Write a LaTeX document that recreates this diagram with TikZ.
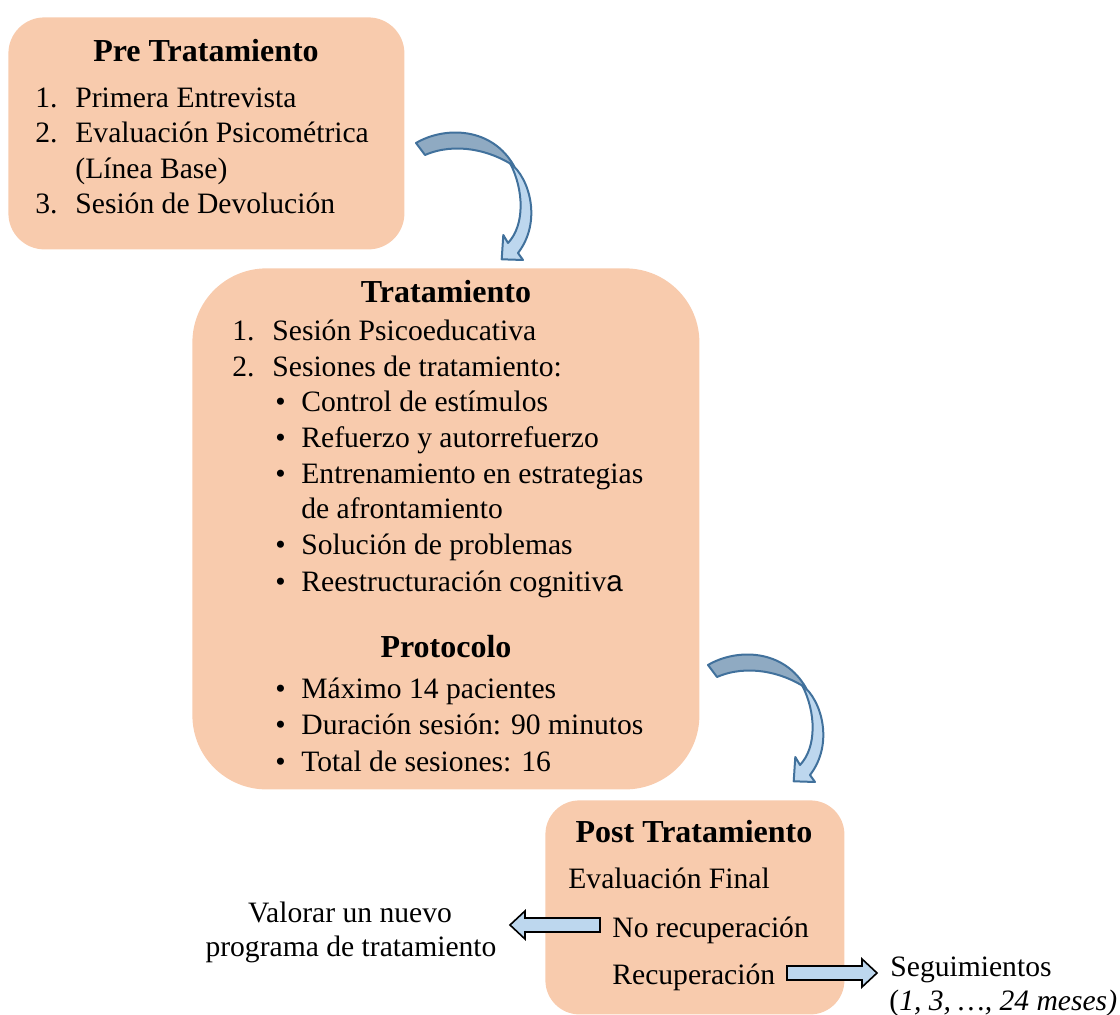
\documentclass[tikz,border=0pt]{standalone}
\usepackage{fontspec}
\setmainfont{Liberation Serif}
\setsansfont{Liberation Sans}
\usetikzlibrary{positioning, calc}
\definecolor{phasepeach}{RGB}{248, 203, 173}
\definecolor{arrowlight}{RGB}{189, 215, 238}
\definecolor{arrowdark}{RGB}{143, 170, 194}
\definecolor{arrowline}{RGB}{65, 113, 156}
\tikzset{
    % Node Styles
    phase/.style={
        rectangle, fill=phasepeach, draw=none, anchor=north west, inner sep=0pt
    },
    txt/.style={font=\fontsize{14.8}{18}\selectfont, inner sep=0pt, anchor=base west},
    title/.style={txt, font=\fontsize{16}{19}\selectfont\bfseries, anchor=base},
    centre/.style={txt, anchor=base},
    % Arrow Styles
    bend_arrow/.style={draw=arrowline, line width=1pt, line join=round},
    block_arrow/.style={draw=black, fill=arrowlight, line width=0.8pt, line join=miter}
}

\begin{document}
\begin{tikzpicture}[x=0.5pt, y=-0.5pt]
    \useasboundingbox (0,0) rectangle (1120,1015);

    % --- 1. Phase boxes ---
    \node [phase, minimum width=198pt, minimum height=116pt, rounded corners=18pt] (prebox) at (8,17) {};
    \node [phase, minimum width=253.5pt, minimum height=260.5pt, rounded corners=37pt] (tratbox) at (192,268) {};
    \node [phase, minimum width=149.5pt, minimum height=107pt, rounded corners=17pt] (postbox) at (545,800) {};

    % --- 2. Pre Tratamiento ---
    \node [title] (pretitle) at (206,62) {Pre Tratamiento};
    \foreach \n/\y [count=\i] in {1./108, 2./143, 3./214}
        \node [txt] (prenum\i) at (35,\y) {\n};
    \foreach \t/\y [count=\i] in {Primera Entrevista/108, Evaluación Psicométrica/143,
                                 {(Línea Base)}/179, Sesión de Devolución/214}
        \node [txt] (pre\i) at (75,\y) {\t};

    % --- 3. Tratamiento ---
    \node [title] (trattitle) at (446,303) {Tratamiento};
    \foreach \n/\y [count=\i] in {1./341, 2./377}
        \node [txt] (tratnum\i) at (232,\y) {\n};
    \node [txt] (trat1) at (272,341) {Sesión Psicoeducativa};
    \node [txt] (trat2) at (272,377) {Sesiones de tratamiento:};
    \foreach \y [count=\i] in {412, 448, 484, 555, 592, 699, 735, 772}
        \node [txt] (dot\i) at (275,\y) {•};
    \foreach \t/\y [count=\i] in {Control de estímulos/412, Refuerzo y autorrefuerzo/448,
                                 Entrenamiento en estrategias/484, de afrontamiento/519,
                                 Solución de problemas/555, Reestructuración cognitiv{\sffamily a}/592}
        \node [txt] (tech\i) at (301,\y) {\t};

    % Protocolo
    \node [title] (prototitle) at (446,658) {Protocolo};
    \foreach \t/\y [count=\i] in {Máximo 14 pacientes/699, Duración sesión: 90 minutos/735,
                                 Total de sesiones: 16/772}
        \node [txt] (proto\i) at (301,\y) {\t};

    % --- 4. Post Tratamiento ---
    \node [title] (posttitle) at (694,842) {Post Tratamiento};
    \node [txt] (evalfinal) at (568,889) {Evaluación Final};
    \node [txt] (norec) at (612,937) {No recuperación};
    \node [txt] (rec) at (612,984) {Recuperación};

    % Outcomes
    \node [centre] (valorar1) at (350,922) {Valorar un nuevo};
    \node [centre] (valorar2) at (351,957) {programa de tratamiento};
    \node [txt] (segui1) at (890,976) {Seguimientos};
    \node [txt] (segui2) at (889,1010) {(\textit{1, 3, …, 24 meses)}};

    % Block arrows
    \draw [block_arrow] (600,918) -- (525,918) -- (525,911) -- (510,925) -- (525,939)
        -- (525,932) -- (600,932) -- cycle;
    \draw [block_arrow] (787,966) -- (862,966) -- (862,959) -- (877,973) -- (862,987)
        -- (862,980) -- (787,980) -- cycle;

    % --- 5. Curved arrows between phases ---
    \foreach \dx/\dy in {0/0, 292/522} {
        \begin{scope}[shift={(\dx,\dy)}]
            \draw [bend_arrow, fill=arrowlight] (510,163) .. controls (530,178) and (542,222) .. (518,253)
                -- (523,260) -- (501.7,259.3) -- (503.3,235) -- (508,243)
                .. controls (525,225) and (524,190) .. (510,163) -- cycle;
            \draw [bend_arrow, fill=arrowdark] (416,143) .. controls (445,126) and (492,127) .. (514,166)
                .. controls (490,150) and (455,142) .. (425,155) -- cycle;
        \end{scope}
    }

\end{tikzpicture}
\end{document}
